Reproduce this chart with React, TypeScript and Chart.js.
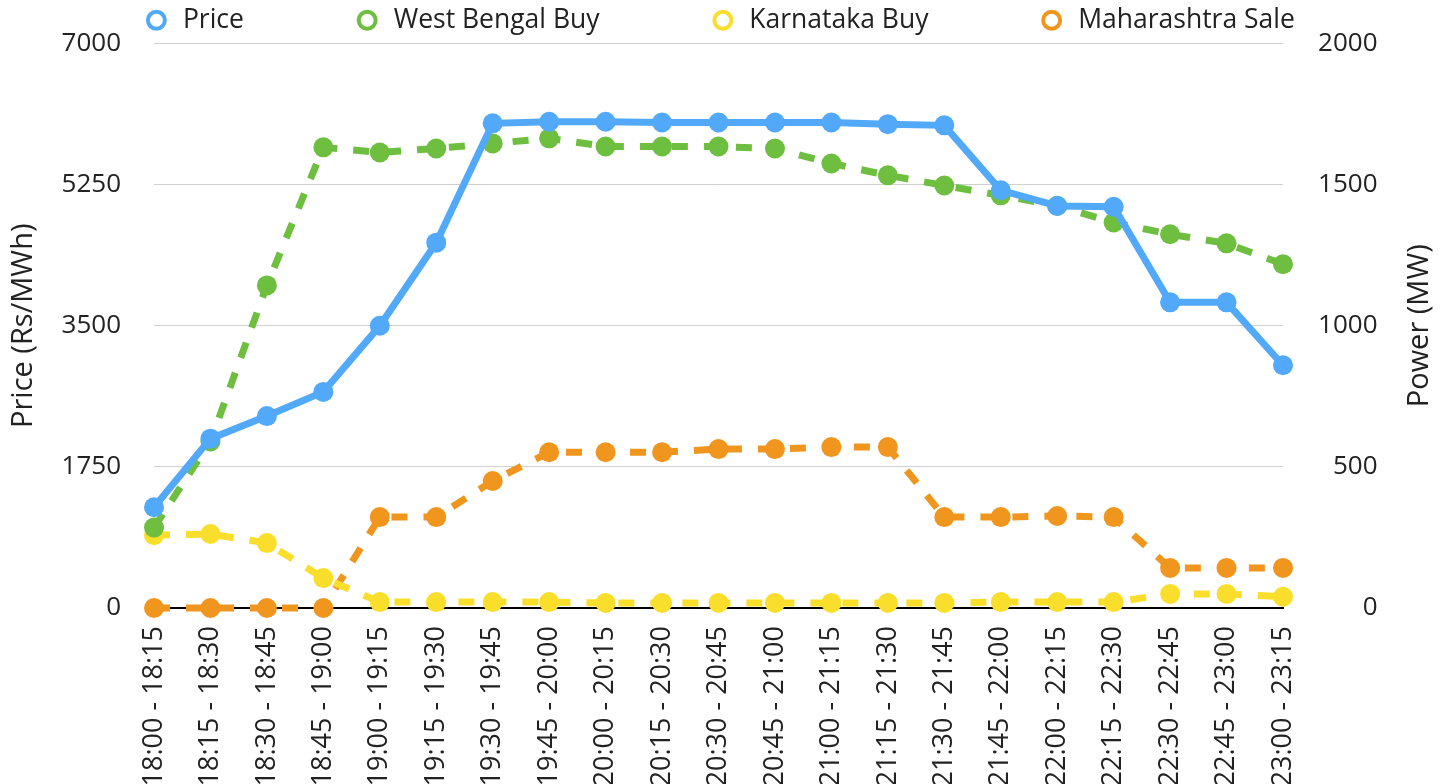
import { useEffect, useRef } from "react";
import { Chart, registerables } from "chart.js";

Chart.register(...registerables);

const timeLabels = [
  "18:00 - 18:15", "18:15 - 18:30", "18:30 - 18:45", "18:45 - 19:00",
  "19:00 - 19:15", "19:15 - 19:30", "19:30 - 19:45", "19:45 - 20:00",
  "20:00 - 20:15", "20:15 - 20:30", "20:30 - 20:45", "20:45 - 21:00",
  "21:00 - 21:15", "21:15 - 21:30", "21:30 - 21:45", "21:45 - 22:00",
  "22:00 - 22:15", "22:15 - 22:30", "22:30 - 22:45", "22:45 - 23:00",
  "23:00 - 23:15",
];

const priceValues = [1250, 2100, 2380, 2680, 3500, 4530, 6010, 6030, 6030, 6020, 6020, 6020, 6020, 6000, 5985, 5180, 4985, 4975, 3790, 3790, 3010];
const westBengalBuy = [285, 590, 1143, 1632, 1614, 1628, 1646, 1664, 1635, 1635, 1635, 1628, 1575, 1533, 1497, 1462, 1425, 1366, 1324, 1292, 1218];
const karnatakaBuy = [258, 262, 230, 106, 21, 21, 21, 21, 18, 18, 18, 18, 18, 18, 18, 21, 21, 21, 50, 50, 40];
const maharashtraSale = [0, 0, 0, 0, 322, 322, 450, 552, 552, 552, 563, 563, 570, 570, 322, 322, 326, 322, 142, 142, 142];

const priceTicks = { min: 0, max: 7000, step: 1750 };
const powerTicks = { min: 0, max: 2000, step: 500 };
const priceTitle = "Price (Rs/MWh)";
const powerTitle = "Power (MW)";

const BLUE = "#52a9f9";
const GREEN = "#6ebe40";
const YELLOW = "#fade2c";
const ORANGE = "#f0961e";
const TEXT = "#222222";
const FONT = "'Open Sans', sans-serif";
const TITLE_SIZE = 29;

const rightTitlePlugin = {
  id: "rightTitle",
  afterDraw(chart: any) {
    const { ctx, chartArea } = chart;
    ctx.save();
    ctx.font = `${TITLE_SIZE}px ${FONT}`;
    ctx.fillStyle = TEXT;
    ctx.textAlign = "center";
    ctx.textBaseline = "middle";
    ctx.translate(1420, (chartArea.top + chartArea.bottom) / 2);
    ctx.rotate(-Math.PI / 2);
    ctx.fillText(powerTitle, 0, 0);
    ctx.restore();
  },
};

export default function App() {
  const ref = useRef<HTMLCanvasElement>(null);

  useEffect(() => {
    document.body.style.margin = "0";
    Chart.defaults.font.family = FONT;
    Chart.defaults.font.size = 26;
    Chart.defaults.color = TEXT;

    const mk = (label: string, data: number[], color: string, axis: string, dashed: boolean) => ({
      label,
      data,
      yAxisID: axis,
      borderColor: color,
      backgroundColor: color,
      borderWidth: 7,
      borderDash: dashed ? [16, 16] : [],
      pointRadius: 10,
      pointHoverRadius: 10,
      pointBackgroundColor: color,
      pointBorderWidth: 0,
      tension: 0,
      clip: false as const,
    });

    const chart = new Chart(ref.current!, {
      type: "line",
      data: {
        labels: timeLabels,
        datasets: [
          mk("Price", priceValues, BLUE, "y", false),
          mk("West Bengal Buy", westBengalBuy, GREEN, "y1", true),
          mk("Karnataka Buy", karnatakaBuy, YELLOW, "y1", true),
          mk("Maharashtra Sale", maharashtraSale, ORANGE, "y1", true),
        ],
      },
      plugins: [rightTitlePlugin],
      options: {
        animation: false,
        responsive: true,
        maintainAspectRatio: false,
        layout: { padding: { top: -103, left: -10, right: 0, bottom: 0 } },
        plugins: {
          tooltip: { enabled: false },
          legend: {
            position: "top",
            labels: {
              usePointStyle: true,
              boxHeight: 12,
              padding: 110,
              color: TEXT,
              font: { size: 26.5 },
              generateLabels: (c: any) =>
                c.data.datasets.map((ds: any, i: number) => ({
                  text: ds.label,
                  fillStyle: "#ffffff",
                  strokeStyle: ds.borderColor,
                  lineWidth: 4,
                  lineDash: [],
                  pointStyle: "circle",
                  hidden: !c.isDatasetVisible(i),
                  datasetIndex: i,
                  fontColor: TEXT,
                })),
            },
          },
        },
        scales: {
          x: {
            type: "category",
            offset: false,
            grid: { display: false, drawTicks: false },
            border: { display: true, color: "#000000", width: 2 },
            ticks: { maxRotation: 90, minRotation: 90, padding: 18, autoSkip: false, color: TEXT, font: { size: 27 } },
            afterFit: (s: any) => { s.height = 176; },
          },
          y: {
            position: "left",
            min: priceTicks.min,
            max: priceTicks.max,
            ticks: { stepSize: priceTicks.step, padding: 33, color: TEXT, font: { size: 26 }, callback: (v: any) => String(v) },
            grid: { color: "#d0d0d0", lineWidth: 1, drawTicks: false },
            border: { display: false },
            title: { display: true, text: priceTitle, color: TEXT, font: { size: TITLE_SIZE }, padding: { top: 16.2, bottom: 0 } },
            afterFit: (s: any) => { s.width = 164; s.paddingTop = 15; s.paddingBottom = 15; },
          },
          y1: {
            position: "right",
            weight: 0,
            min: powerTicks.min,
            max: powerTicks.max,
            ticks: { stepSize: powerTicks.step, padding: 35, crossAlign: "far", color: TEXT, font: { size: 26 }, callback: (v: any) => String(v) },
            grid: { display: false, drawTicks: false },
            border: { display: false },
            afterFit: (s: any) => { s.width = 94.5; s.paddingTop = 15; s.paddingBottom = 15; },
          },
          y2: {
            position: "right",
            weight: 1,
            min: 0,
            max: 1,
            ticks: { display: false },
            grid: { display: false, drawTicks: false },
            border: { display: false },
            afterFit: (s: any) => { s.width = 70.5; s.paddingTop = 0; s.paddingBottom = 0; },
          },
        },
      } as any,
    });
    return () => chart.destroy();
  }, []);

  return (
    <div style={{ position: "absolute", left: 0, top: 0, width: 1448, height: 784, overflow: "hidden", background: "#ffffff" }}>
      <div style={{ position: "relative", width: 1448, height: 784 }}>
        <canvas ref={ref} />
      </div>
    </div>
  );
}
